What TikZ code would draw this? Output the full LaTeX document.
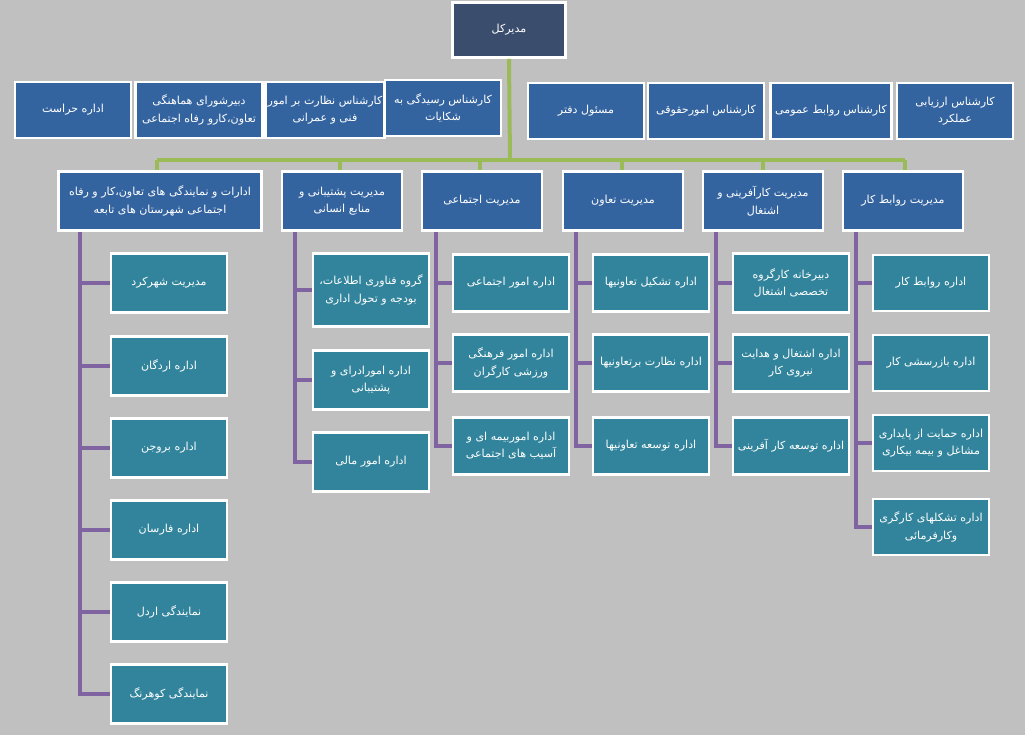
\documentclass[tikz,border=0pt]{standalone}
\usepackage{fontspec}
\newfontfamily\fa[Script=Arabic]{DejaVu Sans}
\TeXXeTstate=1
\newcommand{\rl}[1]{\beginR #1\endR}
\definecolor{bgc}{HTML}{C0C0C0}
\definecolor{navy}{HTML}{3B4D6D}
\definecolor{staffc}{HTML}{3464A0}
\definecolor{tealc}{HTML}{31849B}
\definecolor{greenc}{HTML}{9BBB59}
\definecolor{purplec}{HTML}{8064A2}
\tikzset{
  box/.style={draw=white, line width=2.2pt, text=white, align=center, inner sep=0pt,
    font=\fa\fontsize{8.3}{13}\selectfont},
  head/.style={box, fill=navy},
  staff/.style={box, fill=staffc, minimum height=42pt},
  mgr/.style={box, fill=staffc, minimum height=44pt},
  unit/.style={box, fill=tealc, minimum width=87pt},
  gline/.style={draw=greenc, line width=3pt},
  pline/.style={draw=purplec, line width=3pt}
}
\begin{document}
\begin{tikzpicture}[x=0.75pt, y=-0.75pt]
\fill[bgc] (0,0) rectangle (1025,735);
\useasboundingbox (0,0) rectangle (1025,735);
% top
\node[head, minimum width=85pt, minimum height=41pt] (top) at (509,30) {\rl{مدیرکل}};
% staff
\node[staff, minimum width=87pt] (st1) at (73,110) {\rl{اداره حراست}};
\node[staff, minimum width=95pt] (st2) at (199,110) {\rl{دبیرشورای هماهنگی}\\\rl{تعاون،کارو رفاه اجتماعی}};
\node[staff, minimum width=89pt] (st3) at (325,110) {\rl{کارشناس نظارت بر امور}\\\rl{فنی و عمرانی}};
\node[staff, minimum width=87pt] (st4) at (443,108) {\rl{کارشناس رسیدگی به}\\\rl{شکایات}};
\node[staff, minimum width=87pt] (st5) at (586,111) {\rl{مسئول دفتر}};
\node[staff, minimum width=87pt] (st6) at (706,111) {\rl{کارشناس امورحقوقی}};
\node[staff, minimum width=91pt] (st7) at (831,111) {\rl{کارشناس روابط عمومی}};
\node[staff, minimum width=87pt] (st8) at (955,111) {\rl{کارشناس ارزیابی}\\\rl{عملکرد}};
% managers
\node[mgr, minimum width=152pt] (m1) at (160,201) {\rl{ادارات و نمایندگی های تعاون،کار و رفاه}\\\rl{اجتماعی شهرستان های تابعه}};
\node[mgr, minimum width=90pt] (m2) at (342,201) {\rl{مدیریت پشتیبانی و}\\\rl{منابع انسانی}};
\node[mgr, minimum width=90pt] (m3) at (482,201) {\rl{مدیریت اجتماعی}};
\node[mgr, minimum width=90pt] (m4) at (623,201) {\rl{مدیریت تعاون}};
\node[mgr, minimum width=90pt] (m5) at (763,201) {\rl{مدیریت کارآفرینی و}\\\rl{اشتغال}};
\node[mgr, minimum width=90pt] (m6) at (903,201) {\rl{مدیریت روابط کار}};
% green bus
\coordinate (bus) at (510,160);
\coordinate (busL) at (157,160);
\coordinate (busR) at (905,160);
\draw[gline] (top.south) -- (bus);
\draw[gline] (busL) -- (busR);
\foreach \m/\x in {m1/157, m2/340, m3/480, m4/622, m5/763, m6/905}
  \draw[gline] (\x,160) -- (\m.north -| \x,0);
% column 1
\foreach \i/\y/\t in {1/283/{\rl{مدیریت شهرکرد}}, 2/366/{\rl{اداره اردگان}}, 3/448/{\rl{اداره بروجن}},
    4/530/{\rl{اداره فارسان}}, 5/612/{\rl{نمایندگی اردل}}, 6/694/{\rl{نمایندگی کوهرنگ}}}
  \node[unit, minimum height=44pt] (a\i) at (169,\y) {\t};
\coordinate (s1) at (80,232);
\foreach \i in {1,...,6} \draw[pline] (s1) |- (a\i.west);
% column 2
\node[unit, minimum height=55pt] (b1) at (371,290) {\rl{گروه فناوری اطلاعات،}\\\rl{بودجه و تحول اداری}};
\node[unit, minimum height=44pt] (b2) at (371,380) {\rl{اداره امورادرای و}\\\rl{پشتیبانی}};
\node[unit, minimum height=44pt] (b3) at (371,462) {\rl{اداره امور مالی}};
\coordinate (s2) at (295,232);
\foreach \i in {1,2,3} \draw[pline] (s2) |- (b\i.west);
% column 3
\node[unit, minimum height=43pt] (c1) at (511,283) {\rl{اداره امور اجتماعی}};
\node[unit, minimum height=43pt] (c2) at (511,363) {\rl{اداره امور فرهنگی}\\\rl{ورزشی کارگران}};
\node[unit, minimum height=43pt] (c3) at (511,446) {\rl{اداره اموربیمه ای و}\\\rl{آسیب های اجتماعی}};
\coordinate (s3) at (436,232);
\foreach \i in {1,2,3} \draw[pline] (s3) |- (c\i.west);
% column 4
\node[unit, minimum height=43pt] (d1) at (651,283) {\rl{اداره تشکیل تعاونیها}};
\node[unit, minimum height=43pt] (d2) at (651,363) {\rl{اداره نظارت برتعاونیها}};
\node[unit, minimum height=43pt] (d3) at (651,446) {\rl{اداره توسعه تعاونیها}};
\coordinate (s4) at (576,232);
\foreach \i in {1,2,3} \draw[pline] (s4) |- (d\i.west);
% column 5
\node[unit, minimum height=44pt] (e1) at (791,283) {\rl{دبیرخانه کارگروه}\\\rl{تخصصی اشتغال}};
\node[unit, minimum height=43pt] (e2) at (791,363) {\rl{اداره اشتغال و هدایت}\\\rl{نیروی کار}};
\node[unit, minimum height=43pt] (e3) at (791,446) {\rl{اداره توسعه کار آفرینی}};
\coordinate (s5) at (716,232);
\foreach \i in {1,2,3} \draw[pline] (s5) |- (e\i.west);
% column 6
\node[unit, minimum height=42pt] (f1) at (931,283) {\rl{اداره روابط کار}};
\node[unit, minimum height=42pt] (f2) at (931,363) {\rl{اداره بازرسشی کار}};
\node[unit, minimum height=42pt] (f3) at (931,443) {\rl{اداره حمایت از پایداری}\\\rl{مشاغل و بیمه بیکاری}};
\node[unit, minimum height=42pt] (f4) at (931,527) {\rl{اداره تشکلهای کارگری}\\\rl{وکارفرمائی}};
\coordinate (s6) at (856,232);
\foreach \i in {1,...,4} \draw[pline] (s6) |- (f\i.west);
\end{tikzpicture}
\end{document}
